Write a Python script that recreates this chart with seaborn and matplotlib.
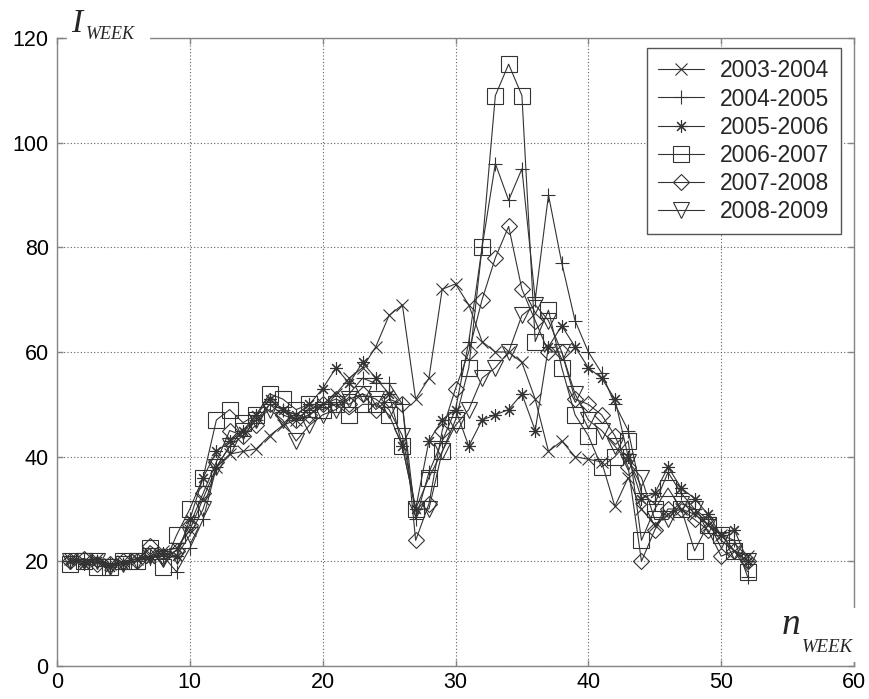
import numpy as np
import pandas as pd
import matplotlib
matplotlib.use("Agg")
import matplotlib.pyplot as plt
import seaborn as sns
from matplotlib.patches import Rectangle

# data
weeks = list(range(1, 53))

s2003 = [20.5, 20, 20.5, 19.5, 20, 20.5, 21, 22, 22.5,
         26, 32, 38, 40.5, 41, 41.5, 44, 46, 47, 48,
         50, 52, 55, 57, 61, 67, 69, 51, 55, 72,
         73, 69, 62, 60, 60, 58, 51, 41, 43, 40,
         39.5, 39, 30.5, 36, 30, 27, 29, 30, 29, 27,
         25, 22, 21]
s2004 = [20, 20.5, 20, 19.5, 19.5, 20, 21, 21, 18,
         22.5, 28, 38, 42, 44, 47, 50, 49, 47, 49,
         50, 50, 52, 55, 54, 54, 50, 28, 37, 43,
         49, 62, 80, 96, 89, 95, 70, 90, 77, 66,
         60, 56, 50, 45, 33, 31, 37, 33, 30, 28,
         25, 24, 17]
s2005 = [20, 19.5, 20, 19, 19.5, 20.5, 20.5, 21.5, 21,
         28, 36, 41, 43, 45, 48, 51, 49, 48, 50,
         53, 57, 54, 58, 55, 52, 42, 30, 43, 47,
         49, 42, 47, 48, 49, 52, 45, 61, 65, 61,
         57, 55, 51, 40, 32, 33, 38, 34, 32, 29,
         25, 26, 20]
s2006 = [19.5, 20, 19, 19, 20, 20, 22.5, 19, 25,
         30, 36, 47, 49, 46.5, 48, 52, 51, 49, 50,
         49, 50, 48, 50, 50, 48, 42, 30, 36, 41,
         47, 57, 80, 109, 115, 109, 62, 68, 57, 48,
         44, 38, 40, 43, 24, 30, 34, 30, 22, 27,
         25, 22, 18]
s2007 = [20, 20.5, 19.5, 19.5, 20, 20, 23, 21, 22,
         27, 33, 39, 45, 44, 46, 50, 48, 47, 48,
         50, 51, 50, 52, 49, 51, 50, 24, 31, 45,
         53, 60, 70, 78, 84, 72, 66, 60, 60, 51,
         50, 48, 44, 38, 20, 26, 30, 30, 28, 26,
         21, 22, 20]
s2008 = [20, 20, 20, 19, 19.5, 20, 21, 20.5, 21,
         25, 30, 38, 42, 45, 47, 49, 47, 43, 46,
         48, 49, 51, 52, 51, 49, 44, 30, 30, 41,
         46, 49, 55, 57, 60, 67, 69, 66, 60, 52,
         47, 45, 42, 39, 36, 28, 28, 31, 30, 27,
         24, 22, 20]

seasons = ["2003-2004", "2004-2005", "2005-2006",
           "2006-2007", "2007-2008", "2008-2009"]
series = [s2003, s2004, s2005, s2006, s2007, s2008]
markers = ["x", "+", (8, 2, 0), "s", "D", "v"]
msizes = [8, 10, 9, 11, 7.8, 11]

sns.set_style("ticks")
plt.rcParams["font.family"] = ["Liberation Sans", "DejaVu Sans"]

fig = plt.figure(figsize=(8.69, 6.99), dpi=100)
ax = fig.add_axes([57 / 869, 1 - 666 / 699, 797 / 869, 628 / 699])

line_col = "#333333"
for name, vals, m, ms in zip(seasons, series, markers, msizes):
    sns.lineplot(x=weeks, y=vals, ax=ax, label=name, color=line_col,
                 linewidth=0.8, marker=m, markersize=ms,
                 markerfacecolor="none", markeredgecolor=line_col,
                 markeredgewidth=0.8)

ax.set_xlim(0, 60)
ax.set_ylim(0, 120)
ax.set_xticks(range(0, 61, 10))
ax.set_yticks(range(0, 121, 20))
ax.set_xlabel("")
ax.set_ylabel("")
ax.grid(True, linestyle=(0, (1, 2)), color="#606060", linewidth=0.8)
ax.set_axisbelow(True)

for sp in ax.spines.values():
    sp.set_visible(True)
    sp.set_color("#858585")
    sp.set_linewidth(1.0)

ax.tick_params(direction="in", length=4.5, width=1, color="#858585",
               top=True, right=True, labelsize=15.5, labelcolor="black")
ax.tick_params(axis="y", pad=6)
ax.tick_params(axis="x", pad=4)

# white patches behind the axis labels (they hide parts of the frame)
ax.add_patch(Rectangle(((67 - 57) / 797, (666 - 56) / 628), 83 / 797, 60 / 628,
                       transform=ax.transAxes, facecolor="white",
                       edgecolor="none", clip_on=False, zorder=2.6))
ax.add_patch(Rectangle(((778 - 57) / 797, (666 - 662) / 628), 90 / 797, 54 / 628,
                       transform=ax.transAxes, facecolor="white",
                       edgecolor="none", clip_on=False, zorder=2.6))

serif_it = dict(family="Liberation Serif", style="italic", zorder=3,
                transform=ax.transAxes, ha="left", va="baseline")
# y label: I_WEEK
ax.text((71 - 57) / 797, (666 - 32) / 628, "I", fontsize=24, **serif_it)
ax.text((86 - 57) / 797, (666 - 39) / 628, "WEEK", fontsize=13, **serif_it)
# x label: n_WEEK
ax.text((782 - 57) / 797, (666 - 634) / 628, "n", fontsize=27, **serif_it)
ax.text((802 - 57) / 797, (666 - 652) / 628, "WEEK", fontsize=13.5, **serif_it)

leg = ax.legend(loc="upper right", bbox_to_anchor=(841 / 869, 1 - 48 / 699),
                bbox_transform=fig.transFigure, fontsize=16.5, frameon=True,
                fancybox=False, framealpha=1, edgecolor="#555555",
                handlelength=2.0, handletextpad=0.7, labelspacing=0.22,
                borderpad=0.5, borderaxespad=0)
leg.get_frame().set_linewidth(1.0)

fig.savefig("out.png", dpi=100)
